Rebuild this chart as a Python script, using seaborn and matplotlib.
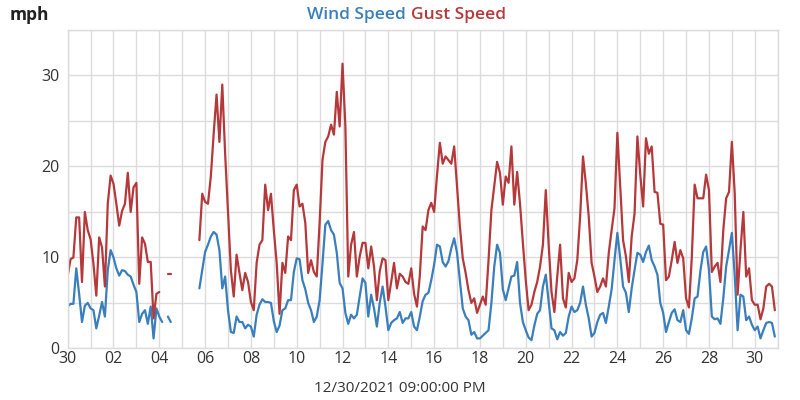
import numpy as np
import pandas as pd
import matplotlib
matplotlib.use('Agg')
import matplotlib.pyplot as plt
import matplotlib.dates as mdates
from matplotlib.ticker import MultipleLocator
import seaborn as sns

# 3-hourly readings, Nov 30 00:00 -> Dec 30 21:00 (8 per day), mph
start = '2021-11-30 00:00'
step = '3h'
nan = np.nan

gust_speed = [
    8.0, 9.8, 10.0, 14.4, 14.4, 7.3, 15.0, 13.0,      # Nov 30
    12.0, 9.3, 5.8, 12.2, 11.1, 6.8, 15.9, 19.0,      # Dec 1
    18.1, 15.9, 13.5, 15.1, 15.9, 19.3, 15.0, 17.7,   # Dec 2
    18.2, 7.1, 12.2, 11.5, 9.5, 9.5, 3.3, 6.0,        # Dec 3
    6.2, nan, nan, 8.2, 8.2, nan, nan, nan,           # Dec 4
    nan, nan, nan, nan, nan, nan, 11.9, 17.0,         # Dec 5
    16.1, 15.9, 18.9, 23.6, 27.9, 22.7, 29.0, 21.4,   # Dec 6
    14.9, 8.6, 5.7, 10.3, 8.3, 6.4, 8.3, 7.3,         # Dec 7
    5.1, 4.2, 9.4, 11.4, 11.9, 18.0, 15.2, 17.0,      # Dec 8
    13.0, 9.4, 3.8, 9.4, 8.3, 12.3, 11.9, 17.4,       # Dec 9
    18.0, 15.6, 15.9, 13.8, 8.3, 9.7, 8.4, 7.9,       # Dec 10
    13.8, 20.7, 22.7, 23.3, 24.6, 23.5, 28.2, 24.4,   # Dec 11
    31.3, 24.4, 7.9, 11.4, 12.8, 7.9, 10.1, 11.6,     # Dec 12
    11.6, 8.8, 11.2, 9.0, 5.3, 8.5, 9.9, 9.7,         # Dec 13
    5.3, 7.3, 9.4, 6.6, 8.2, 7.9, 7.3, 7.1,           # Dec 14
    8.8, 6.0, 4.6, 8.0, 13.4, 13.0, 15.2, 16.0,       # Dec 15
    15.0, 19.0, 22.6, 20.3, 21.1, 20.7, 20.3, 22.2,   # Dec 16
    17.8, 13.4, 9.9, 8.3, 6.4, 5.0, 5.5, 3.9,         # Dec 17
    4.8, 5.7, 4.8, 9.7, 15.2, 17.8, 20.5, 19.3,       # Dec 18
    15.8, 18.9, 18.2, 22.2, 15.8, 19.4, 15.9, 11.6,   # Dec 19
    7.5, 4.2, 4.8, 6.2, 7.3, 9.0, 11.4, 17.4,         # Dec 20
    11.4, 6.2, 4.0, 7.9, 11.4, 5.5, 4.5, 8.3,         # Dec 21
    7.3, 7.7, 9.7, 14.5, 21.1, 18.1, 14.5, 9.4,       # Dec 22
    7.9, 6.2, 6.8, 7.7, 6.8, 10.5, 13.0, 15.4,        # Dec 23
    23.7, 17.8, 11.9, 10.1, 7.3, 12.3, 14.8, 23.3,    # Dec 24
    19.1, 15.6, 23.1, 21.4, 22.2, 17.2, 17.1, 13.7,   # Dec 25
    13.6, 7.5, 7.9, 9.7, 11.7, 9.4, 10.8, 9.9,        # Dec 26
    5.5, 4.5, 10.0, 18.0, 16.5, 16.5, 16.5, 19.1,     # Dec 27
    17.4, 8.4, 9.0, 9.4, 7.3, 13.0, 16.5, 17.2,       # Dec 28
    22.7, 17.0, 5.9, 10.8, 15.0, 7.9, 8.8, 5.3,       # Dec 29
    4.8, 4.8, 3.2, 4.4, 6.8, 7.1, 6.8, 4.2,           # Dec 30
]

wind_speed = [
    4.6, 4.9, 4.9, 8.8, 6.0, 2.9, 4.7, 5.0,           # Nov 30
    4.4, 4.2, 2.2, 3.6, 5.1, 3.5, 8.6, 10.8,          # Dec 1
    10.0, 8.8, 8.0, 8.6, 8.5, 8.1, 7.9, 7.0,          # Dec 2
    6.2, 2.9, 3.8, 4.2, 2.7, 4.6, 1.1, 4.4,           # Dec 3
    3.5, 2.9, nan, 3.5, 2.9, nan, nan, nan,           # Dec 4
    nan, nan, nan, nan, nan, nan, 6.6, 8.6,           # Dec 5
    10.6, 11.4, 12.3, 12.8, 12.5, 10.8, 6.6, 7.9,     # Dec 6
    4.2, 1.8, 1.7, 3.5, 2.9, 2.9, 2.2, 2.6,           # Dec 7
    2.4, 1.3, 3.7, 4.8, 5.4, 5.1, 5.1, 5.0,           # Dec 8
    3.0, 1.8, 2.5, 4.2, 4.4, 5.3, 5.3, 8.4,           # Dec 9
    9.9, 9.8, 7.5, 6.5, 5.0, 4.2, 2.9, 3.5,           # Dec 10
    5.3, 9.3, 13.6, 14.0, 13.0, 12.5, 10.5, 7.2,      # Dec 11
    6.6, 3.9, 2.7, 3.7, 3.3, 3.7, 5.7, 7.7,           # Dec 12
    7.2, 3.5, 5.9, 4.4, 2.4, 5.0, 6.8, 4.6,           # Dec 13
    2.0, 2.8, 3.1, 3.3, 4.0, 2.8, 3.3, 3.3,           # Dec 14
    4.0, 2.4, 2.0, 3.5, 5.2, 5.9, 6.1, 7.5,           # Dec 15
    9.2, 11.4, 11.2, 9.5, 9.0, 9.6, 11.0, 12.1,       # Dec 16
    10.5, 7.5, 4.4, 3.5, 3.1, 1.5, 1.8, 1.1,          # Dec 17
    1.1, 1.4, 1.7, 2.0, 5.0, 9.0, 11.4, 10.5,         # Dec 18
    6.5, 5.3, 6.6, 7.9, 8.0, 9.5, 5.0, 2.9,           # Dec 19
    2.0, 1.2, 0.9, 2.5, 3.8, 4.2, 6.8, 8.1,           # Dec 20
    5.1, 2.2, 2.0, 1.0, 1.8, 1.4, 1.7, 3.5,           # Dec 21
    4.6, 4.0, 4.2, 5.0, 6.8, 4.8, 3.3, 1.3,           # Dec 22
    1.7, 2.9, 3.7, 3.9, 2.8, 4.6, 6.5, 9.7,           # Dec 23
    12.7, 9.9, 6.8, 6.1, 4.0, 6.6, 8.6, 10.5,         # Dec 24
    10.3, 9.5, 10.6, 11.3, 9.7, 9.0, 8.1, 5.0,        # Dec 25
    3.9, 1.8, 2.9, 3.9, 4.3, 3.1, 2.9, 4.2,           # Dec 26
    2.0, 1.6, 3.3, 5.5, 5.7, 8.5, 10.6, 11.2,         # Dec 27
    8.6, 3.5, 3.2, 3.3, 2.7, 5.5, 9.0, 10.8,          # Dec 28
    12.7, 8.0, 2.0, 5.9, 5.7, 3.1, 3.5, 2.6,          # Dec 29
    2.0, 2.4, 1.1, 2.0, 2.8, 2.9, 2.8, 1.3,           # Dec 30
]

series_names = ['Wind Speed', 'Gust Speed']
series_colors = {'Wind Speed': '#3a7fbb', 'Gust Speed': '#b5383b'}
x_title = '12/30/2021 09:00:00 PM'

times = pd.date_range(start, periods=len(gust_speed), freq=step)

# long table; split each series into runs so gaps stay gaps
frames = []
for name, vals in zip(series_names, [wind_speed, gust_speed]):
    d = pd.DataFrame({'time': times, 'mph': vals, 'series': name})
    d['seg'] = d['mph'].isna().cumsum()
    frames.append(d.dropna())
df = pd.concat(frames, ignore_index=True)

sns.set_style('white')
plt.rcParams['font.family'] = ['Open Sans', 'DejaVu Sans']

fig = plt.figure(figsize=(8, 4), dpi=100)
ax = fig.add_axes([0.0846, 0.129, 0.8875, 0.796])

sns.lineplot(data=df, x='time', y='mph', hue='series', units='seg',
             estimator=None, palette=series_colors, lw=1.6, legend=False,
             ax=ax, sort=False)

ax.set_xlim(pd.Timestamp('2021-11-30'), pd.Timestamp('2021-12-31'))
ax.set_ylim(0, 35)

ax.xaxis.set_major_locator(mdates.DayLocator(bymonthday=list(range(2, 31, 2))))
ax.xaxis.set_major_formatter(mdates.DateFormatter('%d'))
ax.xaxis.set_minor_locator(mdates.DayLocator())
ax.yaxis.set_major_locator(MultipleLocator(10))
ax.yaxis.set_minor_locator(MultipleLocator(5))

ax.grid(which='both', color='#dcdcdc', lw=1)
ax.set_axisbelow(True)
for s in ax.spines.values():
    s.set_color('#dcdcdc')
    s.set_linewidth(1)

ax.tick_params(axis='both', which='both', length=0, labelsize=11.5,
               labelcolor='#333333')
ax.tick_params(axis='x', pad=2)
ax.tick_params(axis='y', pad=6)

ax.set_xlabel('')
ax.set_ylabel('')
fig.text(0.5, 0.03, x_title, fontsize=11, color='#333333',
         ha='center', va='center')

fig.text(0.0125, 0.962, 'mph', fontsize=12.5, fontweight='bold',
         color='#222222', ha='left', va='center')
fig.text(0.5075, 0.962, series_names[0], fontsize=12.5, fontweight='semibold',
         color=series_colors['Wind Speed'], ha='right', va='center')
fig.text(0.5135, 0.962, series_names[1], fontsize=12.5, fontweight='semibold',
         color=series_colors['Gust Speed'], ha='left', va='center')

fig.savefig('out.png', dpi=100)
